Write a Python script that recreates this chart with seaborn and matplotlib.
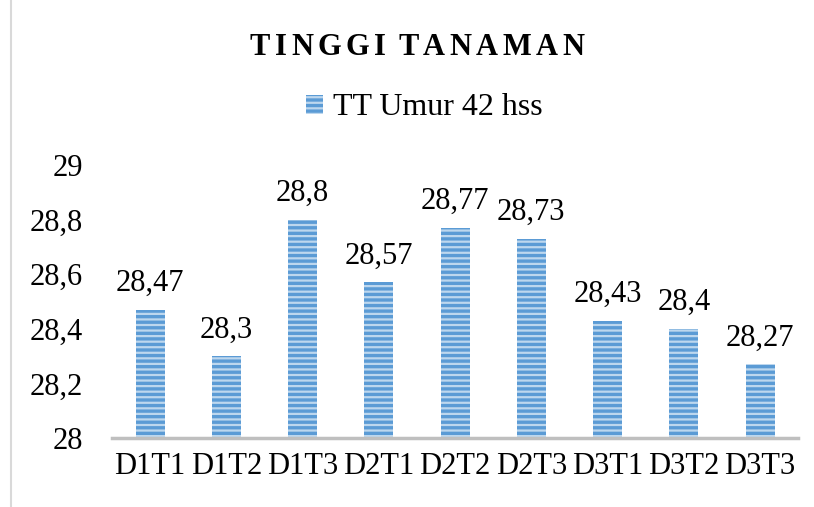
import numpy as np
import pandas as pd
import seaborn as sns
import matplotlib.pyplot as plt
from matplotlib.lines import Line2D

# Data
perlakuan = ["D1T1", "D1T2", "D1T3", "D2T1", "D2T2", "D2T3", "D3T1", "D3T2", "D3T3"]
tinggi = [28.47, 28.3, 28.8, 28.57, 28.77, 28.73, 28.43, 28.4, 28.27]
y_ticks = [28, 28.2, 28.4, 28.6, 28.8, 29]

df = pd.DataFrame({"perlakuan": perlakuan, "tinggi": tinggi})

sns.set_style("white")
plt.rcParams["font.family"] = ["Liberation Serif", "DejaVu Serif"]
plt.rcParams["text.color"] = "black"
plt.rcParams["xtick.color"] = "black"
plt.rcParams["ytick.color"] = "black"
plt.rcParams["hatch.linewidth"] = 1.6

fig = plt.figure(figsize=(8.14, 5.07), dpi=100)
ax = fig.add_axes([0.1376, 0.136, 0.843, 0.5385])

bar_color = "#5B9BD5"
sns.barplot(data=df, x="perlakuan", y="tinggi", color=bar_color, width=0.38,
            saturation=1, ax=ax)
for p in ax.patches:
    p.set_hatch("---")
    p.set_edgecolor("#BDD7EE")
    p.set_linewidth(0)

ax.set_ylim(28, 29)
ax.set_yticks(y_ticks)
ax.set_yticklabels([f"{v:g}".replace(".", ",") for v in y_ticks], fontsize=22)
ax.tick_params(axis="x", labelsize=22, length=0, pad=10)
ax.tick_params(axis="y", length=0, pad=21)
ax.set_xlabel("")
ax.set_ylabel("")
for side in ["top", "right", "left"]:
    ax.spines[side].set_visible(False)
ax.spines["bottom"].set_color("#BFBFBF")
ax.spines["bottom"].set_linewidth(2.5)

for i, v in enumerate(tinggi):
    ax.annotate(f"{v:g}".replace(".", ","), (i, v), xytext=(0, 13.5),
                textcoords="offset points", ha="center", va="baseline", fontsize=22)

# letter-spaced bold title
title = "TINGGI TANAMAN"
renderer = fig.canvas.get_renderer()
letter_gap, word_gap = 4.5, 8
pieces = []
for ch in title:
    if ch == " ":
        pieces.append(None)
        continue
    t = fig.text(0, 0.907, ch, fontsize=22, fontweight="bold", va="center", ha="left")
    pieces.append(t)
widths = [p.get_window_extent(renderer).width if p is not None else None for p in pieces]
total = 0
for w in widths:
    total += word_gap if w is None else w + letter_gap
total -= letter_gap
x = 417 - total / 2
for p, w in zip(pieces, widths):
    if p is None:
        x += word_gap
        continue
    p.set_x(x / fig.bbox.width)
    x += w + letter_gap

handle = plt.Rectangle((0, 0), 1, 1, facecolor=bar_color, edgecolor="#BDD7EE",
                       hatch="---", linewidth=0)
fig.legend([handle], ["TT Umur 42 hss"], loc="center", bbox_to_anchor=(0.521, 0.787),
           frameon=False, fontsize=23, handlelength=0.55, handleheight=0.55,
           handletextpad=0.3)

fig.add_artist(Line2D([0.013, 0.013], [0, 1], transform=fig.transFigure,
                      color="#D9D9D9", linewidth=1.5))

fig.savefig("out.png", dpi=100)
